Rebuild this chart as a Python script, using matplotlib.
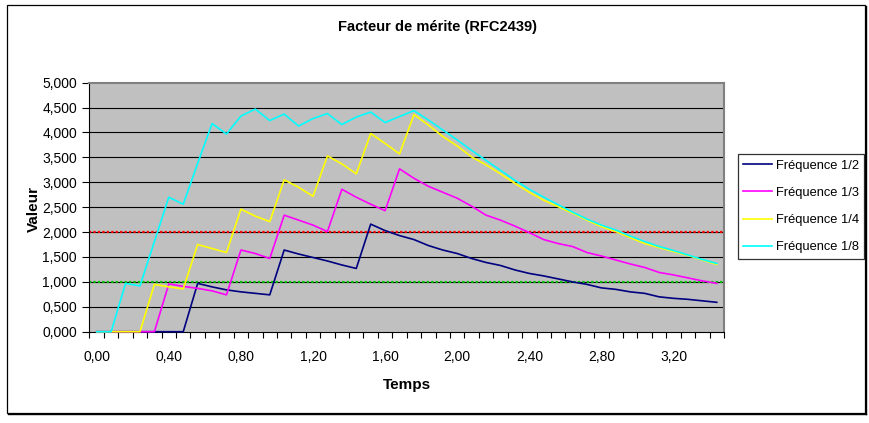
import numpy as np
import matplotlib
matplotlib.use("Agg")
from matplotlib import pyplot as plt
from matplotlib.patches import Rectangle
from matplotlib.lines import Line2D

plt.rcParams['font.family'] = ['Liberation Sans', 'DejaVu Sans']

# tick labels of the category axis (one label every 5 categories)
x_labels = ["0,00", "0,40", "0,80", "1,20", "1,60", "2,00", "2,40", "2,80", "3,20"]
label_every = 5

freq_2 = [0, 0, 0, 0, 0, 0, 0, 0.97, 0.90, 0.84, 0.80, 0.77, 0.74, 1.64, 1.56,
          1.49, 1.42, 1.34, 1.27, 2.16, 2.03, 1.93, 1.85, 1.73, 1.64, 1.57,
          1.47, 1.39, 1.33, 1.24, 1.17, 1.12, 1.06, 1.00, 0.95, 0.88, 0.85,
          0.80, 0.77, 0.70, 0.67, 0.65, 0.62, 0.59]
freq_3 = [0, 0, 0, 0, 0, 0.96, 0.91, 0.87, 0.82, 0.74, 1.64, 1.57, 1.47, 2.34,
          2.24, 2.14, 2.01, 2.86, 2.70, 2.56, 2.43, 3.27, 3.08, 2.92, 2.80,
          2.68, 2.52, 2.34, 2.24, 2.12, 1.99, 1.85, 1.77, 1.71, 1.59, 1.52,
          1.44, 1.36, 1.29, 1.19, 1.14, 1.08, 1.02, 0.97]
freq_4 = [0, 0, 0, 0, 0.95, 0.90, 0.86, 1.75, 1.67, 1.59, 2.46, 2.32, 2.21,
          3.05, 2.90, 2.72, 3.53, 3.37, 3.17, 3.98, 3.78, 3.57, 4.36, 4.15,
          3.92, 3.73, 3.51, 3.35, 3.17, 2.98, 2.80, 2.64, 2.51, 2.38, 2.24,
          2.11, 2.01, 1.89, 1.77, 1.69, 1.61, 1.53, 1.44, 1.35]
freq_8 = [0, 0, 0.97, 0.92, 1.81, 2.70, 2.56, 3.38, 4.18, 3.97, 4.33, 4.47,
          4.24, 4.37, 4.13, 4.28, 4.38, 4.16, 4.31, 4.41, 4.20, 4.32, 4.44,
          4.25, 4.05, 3.85, 3.64, 3.44, 3.24, 3.04, 2.86, 2.70, 2.55, 2.40,
          2.26, 2.14, 2.04, 1.92, 1.81, 1.71, 1.63, 1.54, 1.45, 1.37]

series_names = ["Fréquence 1/2", "Fréquence 1/3", "Fréquence 1/4", "Fréquence 1/8"]
series_colors = ["#000080", "#FF00FF", "#FFFF00", "#00FFFF"]

seuil_haut = 2.0
seuil_bas = 1.0

W, H = 870, 423
fig = plt.figure(figsize=(W / 100, H / 100), dpi=100)

# outer chart border with a small shadow
fig.patches.append(Rectangle((7 / W, 1 - 413 / H), 858 / W, 408 / H, transform=fig.transFigure,
                             fill=False, ec="black", lw=0.9))
fig.lines.append(Line2D([866.5 / W, 866.5 / W], [1 - 414 / H, 1 - 6 / H], transform=fig.transFigure,
                        color="black", lw=1.0))
fig.lines.append(Line2D([8 / W, 866.5 / W], [1 - 414 / H, 1 - 414 / H], transform=fig.transFigure,
                        color="black", lw=1.0))

left, right, top, bottom = 89.5, 724, 82.7, 331.7
ax = fig.add_axes([left / W, 1 - bottom / H, (right - left) / W, (bottom - top) / H])
ax.set_facecolor("#C0C0C0")

n = len(freq_2)
x = np.arange(n)

for yv in np.arange(0.5, 5.0, 0.5):
    ax.axhline(yv, color="black", lw=0.8, zorder=1)

ax.axhline(seuil_haut, color="#FF0000", lw=1.6, ls=(0, (1, 1)), dash_capstyle="butt", zorder=2)
ax.axhline(seuil_bas, color="#00C000", lw=1.6, ls=(0, (1, 1)), dash_capstyle="butt", zorder=2)

for vals, name, col in zip([freq_2, freq_3, freq_4, freq_8], series_names, series_colors):
    ax.plot(x, vals, color=col, lw=1.2, label=name, zorder=3, clip_on=False)

ax.set_xlim(-0.5, n - 0.5)
ax.set_ylim(0, 5)

# category axis: ticks between categories, labels on categories
ax.set_xticks(np.arange(0, n, label_every)[:len(x_labels)])
ax.set_xticklabels(x_labels, fontsize=10)
ax.set_xticks(np.arange(n + 1) - 0.5, minor=True)
ax.tick_params(axis="x", which="major", length=0, pad=13)
ax.tick_params(axis="x", which="minor", direction="out", length=4, width=0.8, color="black")

yt = np.arange(0, 5.01, 0.5)
ax.set_yticks(yt)
ax.set_yticklabels([("%.3f" % v).replace(".", ",") for v in yt], fontsize=10)
ax.tick_params(axis="y", direction="out", length=5, width=0.8, pad=4)

for side in ["top", "right"]:
    ax.spines[side].set_color("#808080")
    ax.spines[side].set_linewidth(1.5)
for side in ["left", "bottom"]:
    ax.spines[side].set_color("black")
    ax.spines[side].set_linewidth(0.8)

fig.text(437 / W, 1 - 27 / H, "Facteur de mérite (RFC2439)", ha="center", va="center",
         fontsize=10.5, fontweight="bold")
fig.text(34 / W, 1 - 209 / H, "Valeur", ha="center", va="center", rotation=90,
         fontsize=11, fontweight="bold")
fig.text(407 / W, 1 - 385 / H, "Temps", ha="center", va="center",
         fontsize=11, fontweight="bold")

leg = ax.legend(loc="center left", bbox_to_anchor=(737.5 / W, 1 - 206.5 / H),
                bbox_transform=fig.transFigure, fontsize=9.3, frameon=True, fancybox=False,
                borderaxespad=0, handlelength=2.3, handletextpad=0.25, labelspacing=1.18,
                borderpad=0.4)
leg.get_frame().set_edgecolor("black")
leg.get_frame().set_linewidth(0.9)
leg.get_frame().set_facecolor("white")

fig.savefig("out.png", dpi=100)
